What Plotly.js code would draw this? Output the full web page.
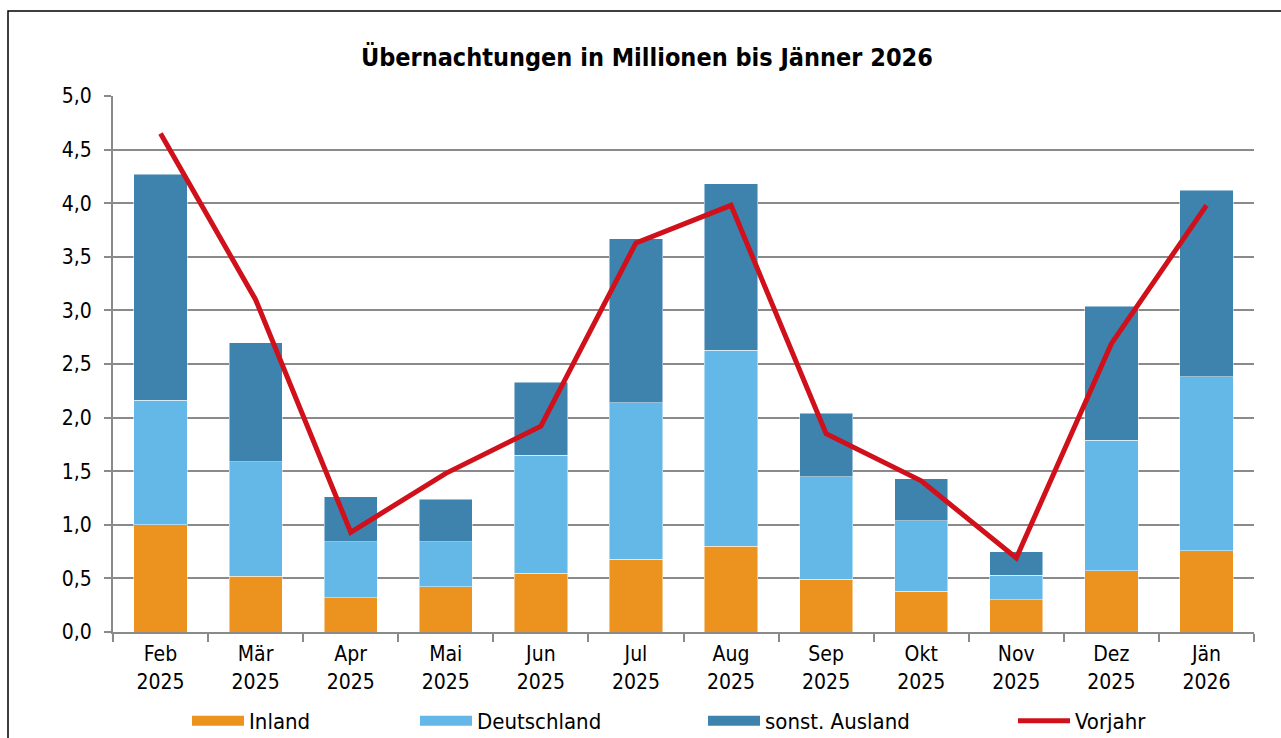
<!DOCTYPE html>
<html>
<head>
<meta charset="utf-8">
<script src="https://cdn.plot.ly/plotly-3.0.1.min.js"></script>
<style>html,body{margin:0;padding:0;background:#fff;}#chart{width:1281px;height:738px;}</style>
</head>
<body>
<div id="chart"></div>
<script>
const months = ["Feb<br>2025","Mär<br>2025","Apr<br>2025","Mai<br>2025","Jun<br>2025","Jul<br>2025","Aug<br>2025","Sep<br>2025","Okt<br>2025","Nov<br>2025","Dez<br>2025","Jän<br>2026"];
const inland = [1.00, 0.52, 0.32, 0.42, 0.55, 0.68, 0.80, 0.49, 0.38, 0.30, 0.57, 0.76];
const deutschland = [1.16, 1.07, 0.52, 0.42, 1.10, 1.46, 1.83, 0.96, 0.66, 0.23, 1.22, 1.62];
const sonstAusland = [2.11, 1.11, 0.42, 0.40, 0.68, 1.53, 1.55, 0.59, 0.39, 0.22, 1.25, 1.74];
const vorjahr = [4.65, 3.10, 0.93, 1.48, 1.92, 3.63, 3.98, 1.85, 1.41, 0.69, 2.69, 3.98];
const seriesNames = ["Inland", "Deutschland", "sonst. Ausland", "Vorjahr"];
const colors = ["#EB931E", "#63B8E8", "#3E82AE", "#D0101A"];

const FONT = "DejaVu Sans Condensed, DejaVu Sans, sans-serif";
const barLine = {color: "rgba(255,255,255,0.6)", width: 0.8};

const traces = [
  {type: "bar", name: seriesNames[0], x: months, y: inland, marker: {color: colors[0], line: barLine}, showlegend: false},
  {type: "bar", name: seriesNames[1], x: months, y: deutschland, marker: {color: colors[1], line: barLine}, showlegend: false},
  {type: "bar", name: seriesNames[2], x: months, y: sonstAusland, marker: {color: colors[2], line: barLine}, showlegend: false},
  {type: "scatter", mode: "lines", name: seriesNames[3], x: months, y: vorjahr, line: {color: colors[3], width: 5}, legend: "legend4"},
  // legend swatches for the stacked bar series (wide rectangles as in the original)
  {type: "scatter", mode: "lines", name: seriesNames[0], x: [null], y: [null], line: {color: colors[0], width: 12}, legend: "legend", hoverinfo: "skip"},
  {type: "scatter", mode: "lines", name: seriesNames[1], x: [null], y: [null], line: {color: colors[1], width: 12}, legend: "legend2", hoverinfo: "skip"},
  {type: "scatter", mode: "lines", name: seriesNames[2], x: [null], y: [null], line: {color: colors[2], width: 12}, legend: "legend3", hoverinfo: "skip"}
];

function px2x(px) { return (px - 113) / 1141; }
const legBase = {orientation: "h", yref: "container", y: 1 - 721/738, yanchor: "middle", xanchor: "left", font: {family: FONT, size: 22, color: "#000"}, bgcolor: "rgba(0,0,0,0)", itemwidth: 52};

const layout = {
  width: 1281, height: 738,
  margin: {l: 113, r: 27, t: 96, b: 106, autoexpand: false},
  paper_bgcolor: "#fff", plot_bgcolor: "#fff",
  separators: ",.",
  barmode: "stack", bargap: 0.44,
  font: {family: FONT, size: 21, color: "#000"},
  title: {text: "<b>Übernachtungen in Millionen bis Jänner 2026</b>", font: {family: FONT, size: 25, color: "#000"}, x: 0.505, xanchor: "center", y: 1 - 57/738, yanchor: "middle"},
  xaxis: {type: "category", range: [-0.5, 11.5], showline: true, linecolor: "#8a8a8a", linewidth: 2, ticks: "outside", ticklen: 8, tickwidth: 2, tickcolor: "#8a8a8a", tickson: "boundaries", showgrid: false, ticklabelstandoff: 2, tickfont: {family: FONT, size: 21, color: "#000"}, fixedrange: true, automargin: false},
  yaxis: {range: [0, 5], dtick: 0.5, tick0: 0, tickformat: ".1f", showline: true, linecolor: "#8a8a8a", linewidth: 2, ticks: "outside", ticklen: 7, tickwidth: 2, tickcolor: "#8a8a8a", showgrid: true, gridcolor: "#8a8a8a", gridwidth: 2, zeroline: false, ticklabelstandoff: 8, tickfont: {family: FONT, size: 21, color: "#000"}, fixedrange: true, automargin: false},
  legend: Object.assign({}, legBase, {x: px2x(187)}),
  legend2: Object.assign({}, legBase, {x: px2x(415)}),
  legend3: Object.assign({}, legBase, {x: px2x(703)}),
  legend4: Object.assign({}, legBase, {x: px2x(1013)}),
  showlegend: true,
  shapes: [
    {type: "rect", xref: "paper", yref: "paper", x0: (8 - 113)/1141, x1: 1.2, y0: -0.5, y1: (632 - 11)/536, line: {color: "#000", width: 1.5}, fillcolor: "rgba(0,0,0,0)", layer: "below"}
  ]
};

Plotly.newPlot("chart", traces, layout, {displayModeBar: false, staticPlot: true});
</script>
</body>
</html>
